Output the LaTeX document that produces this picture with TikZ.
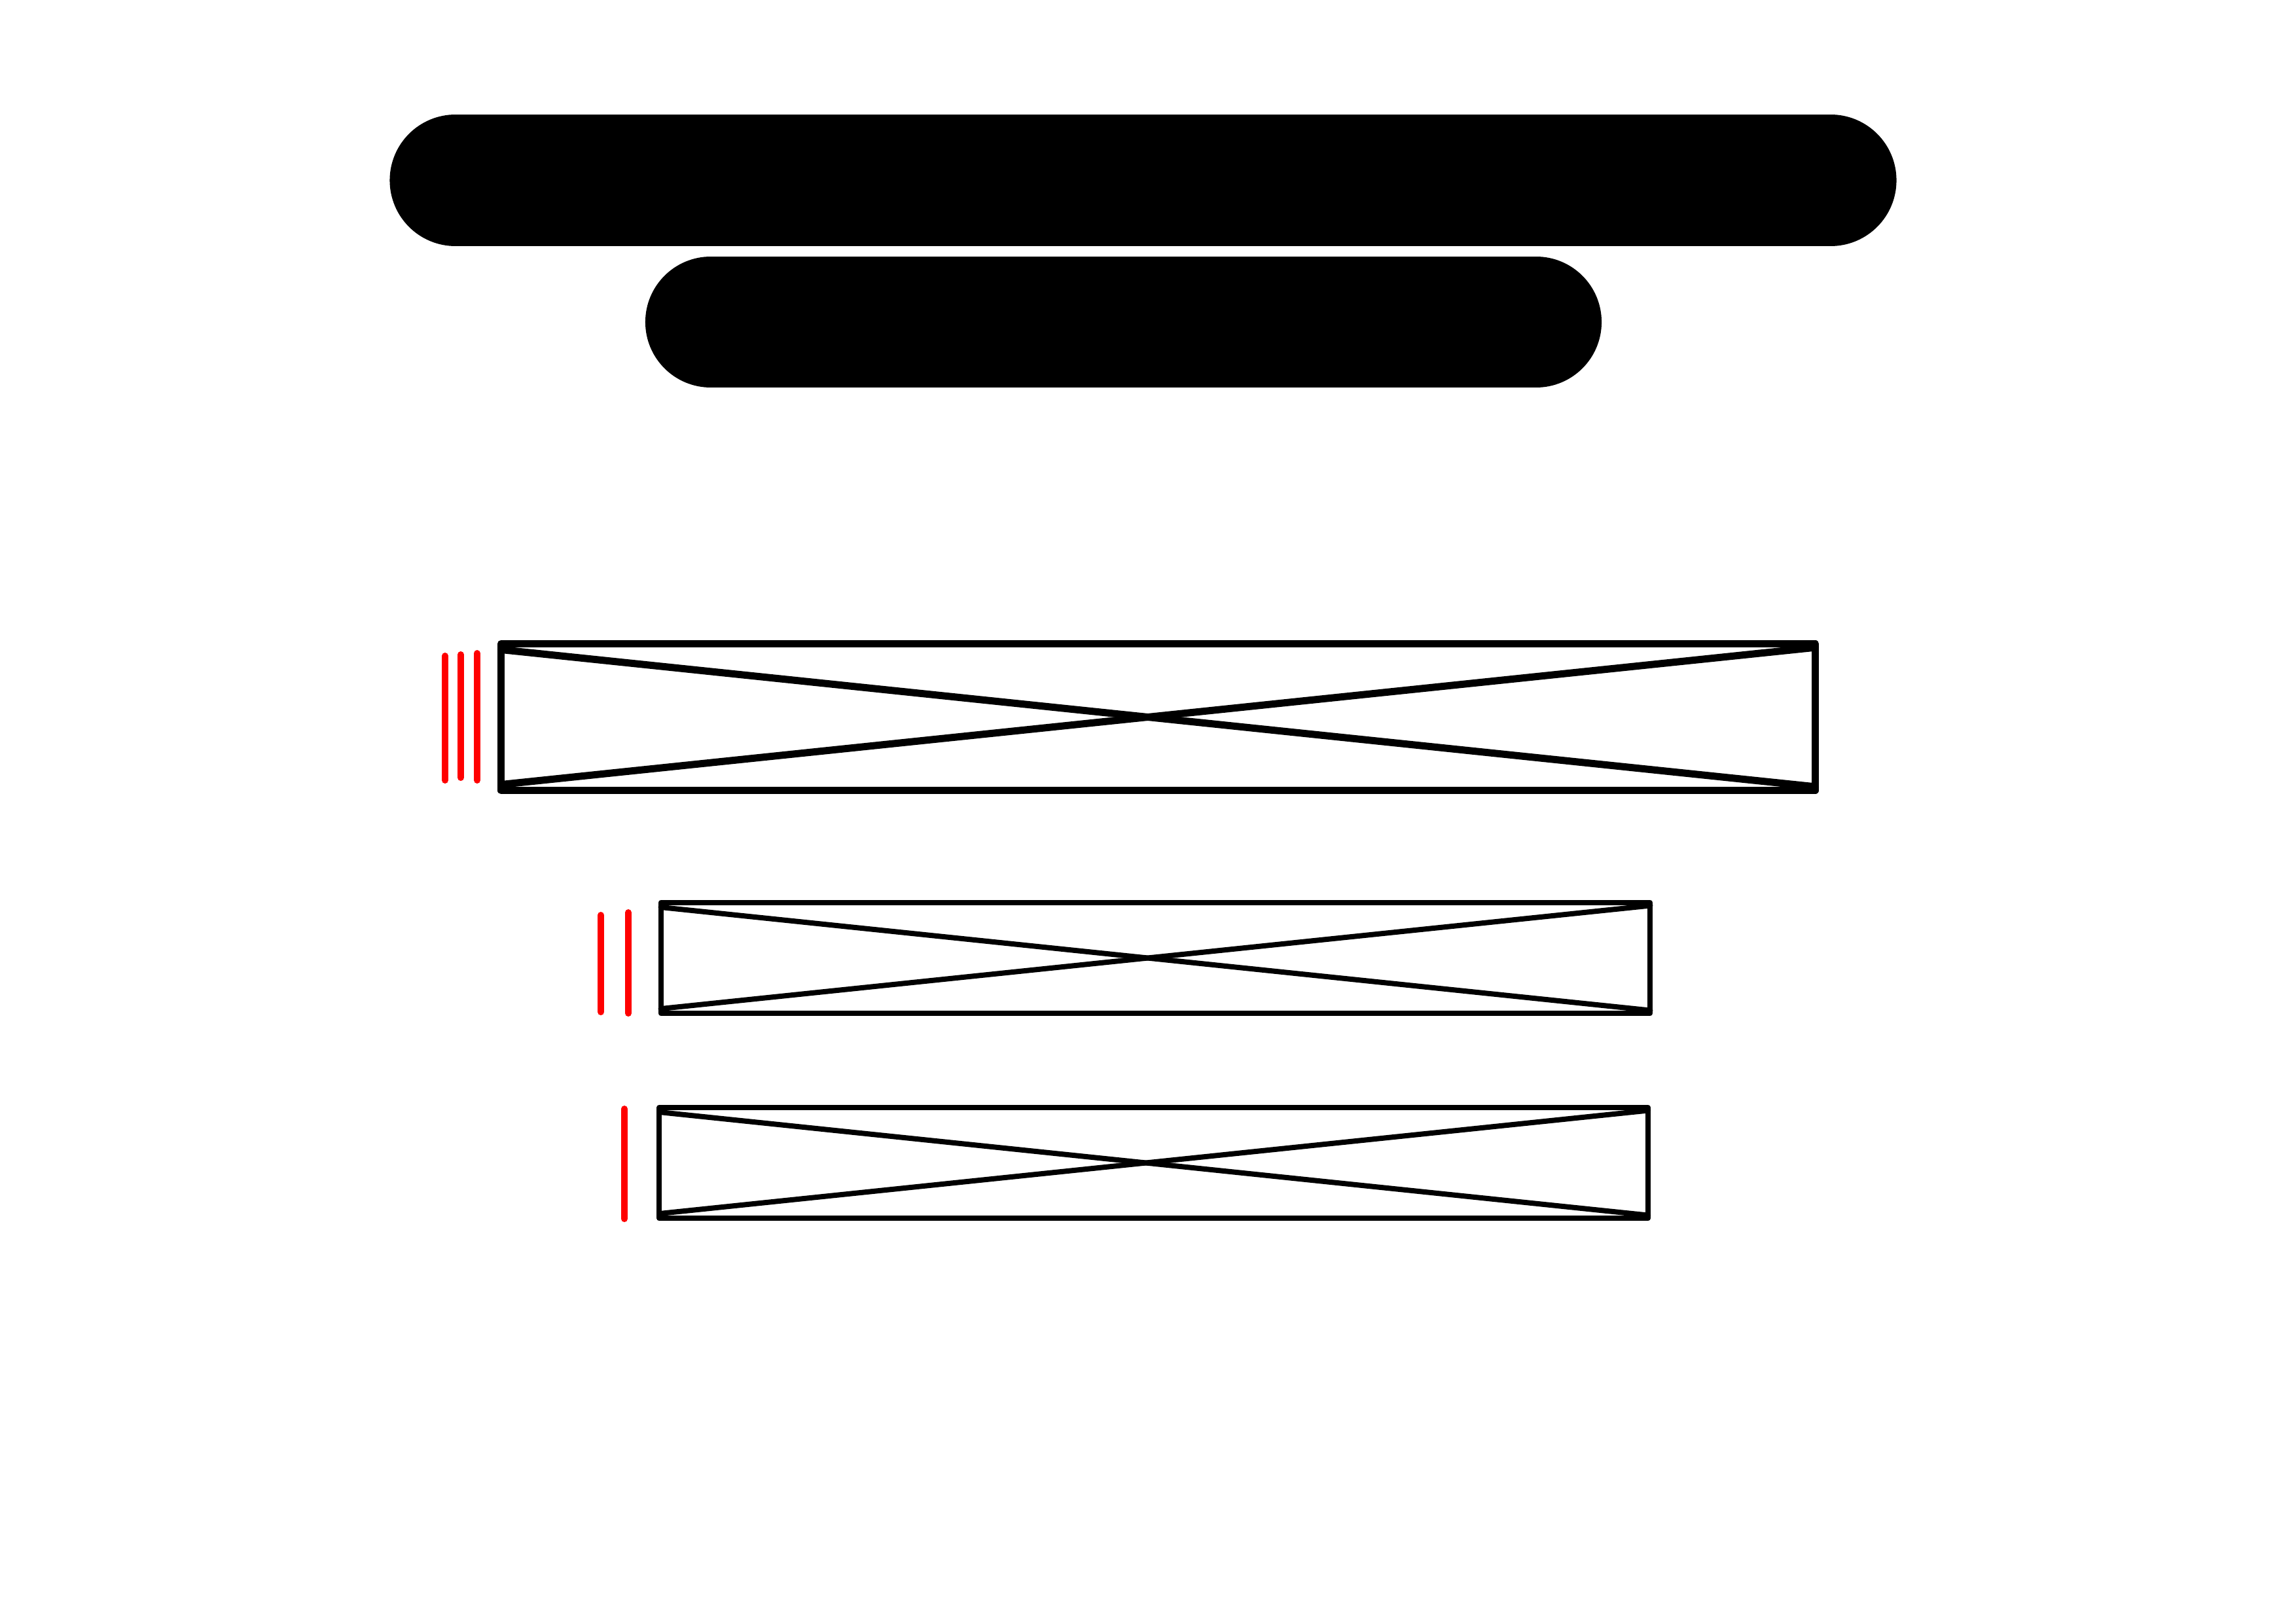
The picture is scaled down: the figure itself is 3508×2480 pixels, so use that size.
\documentclass[tikz,border=0pt]{standalone}
\usepackage{tikz}
\usetikzlibrary{calc}
\tikzset{
    bar/.style={line width=2cm, line cap=round},
    xbox/.style={draw, line width=#1, line join=round, inner sep=0pt, outer sep=0pt},
    xbox/.default=0.08cm,
    tick/.style={red, line width=0.1cm, line cap=round}
}
\begin{document}
\begin{tikzpicture}[x=0.01cm, y=-0.01cm]
    \useasboundingbox (0,0) rectangle (3508,2480);
    % two thick bars
    \coordinate (t1) at (696,275.5);
    \coordinate (t2) at (2797,275.5);
    \coordinate (m1) at (1086,492);
    \coordinate (m2) at (2347,492);
    \draw[bar, line width=2.01cm] (t1) -- (t2);
    \draw[bar] (m1) -- (m2);

    % crossed boxes
    \node[xbox=0.11cm, minimum width=20.07cm, minimum height=2.24cm] (b1) at (1769.5,1095.5) {};
    \node[xbox, minimum width=15.11cm, minimum height=1.69cm] (b2) at (1765.5,1463.5) {};
    \node[xbox, minimum width=15.1cm, minimum height=1.69cm] (b3) at (1762.75,1776.5) {};
    \foreach \b/\w/\dl/\dr in {b1/0.11cm/0.09cm/0.057cm, b2/0.08cm/0.07cm/0.045cm, b3/0.08cm/0.07cm/0.045cm} {
        \draw[line width=\w, line cap=round] ([yshift=-\dl]\b.north west) -- ([yshift=\dr]\b.south east);
        \draw[line width=\w, line cap=round] ([yshift=\dl]\b.south west) -- ([yshift=-\dr]\b.north east);
    }

    % red marks
    \foreach \x/\ya/\yb in {680/1002/1192, 704/1000/1188, 729/998/1192,
                            918/1398/1546, 960/1394/1548, 954/1694/1862}
        \draw[tick] (\x,\ya) -- (\x,\yb);
\end{tikzpicture}
\end{document}
